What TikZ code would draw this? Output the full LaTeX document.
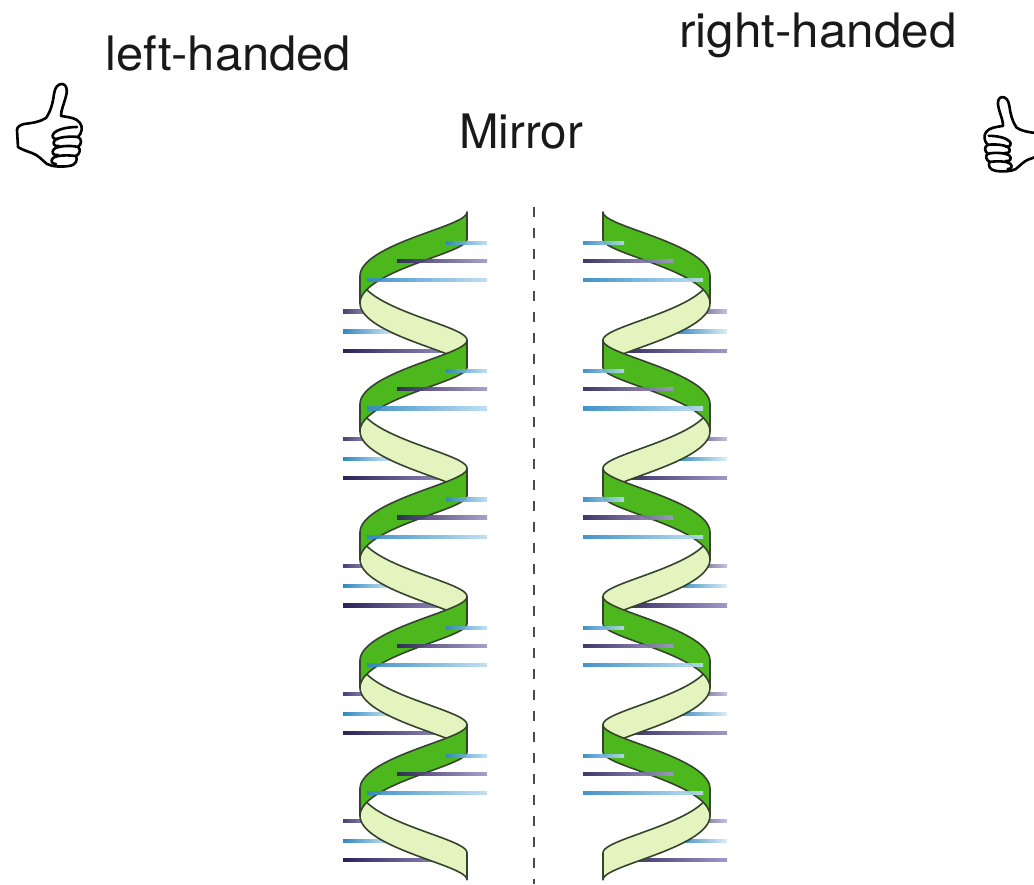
\documentclass[tikz,border=0pt]{standalone}
\usepackage{fontspec}
\setmainfont{TeX Gyre Heros}
\definecolor{ribbondark}{HTML}{4DB81E}
\definecolor{ribbonlight}{HTML}{E4F4BE}
\definecolor{ribbonedge}{HTML}{36432F}
\definecolor{bluedeep}{HTML}{2F88C4}
\definecolor{bluepale}{HTML}{B9DDF2}
\definecolor{violetdeep}{HTML}{2B2358}
\definecolor{violetpale}{HTML}{A098C8}
\definecolor{mirrorgray}{HTML}{4A4A4A}

% helix parameters (1 unit = 1pt, y grows downwards)
\def\hcx{413.5}
\def\hrr{53.5}
\def\hyo{212}
\def\hkk{0.35605}
\def\hee{6.5}
\def\hww{27}

% one half turn of the ribbon between two angles (degrees)
\newcommand\ribbonband[3]{%
  \filldraw[#1] plot[domain=#2:#3,samples=45]
      ({\hcx+\hrr*cos(\x)},{\hyo+\hkk*\x-\hee*sin(\x)})
    -- plot[domain=#3:#2,samples=45]
      ({\hcx+\hrr*cos(\x)},{\hyo+\hww+\hkk*\x-\hee*sin(\x)})
    -- cycle;}

% a base-pair rung: from x1 to x2 at height y, shaded between two colours
\newcommand\rung[5]{%
  \shade[left color=#4,right color=#5] (#1,#3-1.6) rectangle (#2,#3+1.6);}

% one complete double helix with its rungs
\newcommand\helixstrand{%
  \foreach \m in {0,...,4}{%
    \pgfmathsetmacro\ya{311.5+127.4*\m}%
    \pgfmathsetmacro\yb{331.5+127.4*\m}%
    \pgfmathsetmacro\yc{350.7+127.4*\m}%
    \rung{343}{385}{\ya}{violetdeep!75!violetpale}{violetpale!60}
    \rung{343}{395}{\yb}{bluedeep}{bluepale!50}
    \rung{343}{458}{\yc}{violetdeep}{violetpale}
  }
  \foreach \m in {0,...,4}{%
    \pgfmathsetmacro\sa{360*\m+180}%
    \pgfmathsetmacro\sb{360*\m+360}%
    \ribbonband{backband}{\sa}{\sb}
  }
  \foreach \m in {0,...,4}{%
    \pgfmathsetmacro\sa{360*\m}%
    \pgfmathsetmacro\sb{360*\m+180}%
    \ribbonband{frontband}{\sa}{\sb}
  }
  \foreach \m in {0,...,4}{%
    \pgfmathsetmacro\ya{243+128.2*\m}%
    \pgfmathsetmacro\yb{261+128.2*\m}%
    \pgfmathsetmacro\yc{280.3+128.2*\m}%
    \begin{scope}[opacity=0.9]
    \rung{446}{487}{\ya}{bluedeep}{bluepale}
    \rung{397}{487}{\yb}{violetdeep}{violetpale}
    \rung{367}{487}{\yc}{bluedeep}{bluepale}
    \end{scope}
  }
}

% thumbs-up hand outline with curled fingers
\newcommand\thumbhand{%
  \draw[handline] (46,118) .. controls (51,111) and (53,102) .. (54,94)
    .. controls (55,87) and (58,84) .. (62,84)
    .. controls (66,84) and (68,89) .. (66,96)
    .. controls (64,104) and (61,110) .. (61,116)
    .. controls (68,117) and (77,118) .. (80,123)
    .. controls (83,127) and (82,133) .. (78,137)
    .. controls (82,139) and (82,144) .. (78,147)
    .. controls (81,149) and (80,154) .. (76,156)
    .. controls (78,160) and (76,165) .. (69,166)
    .. controls (62,167) and (53,167) .. (47,164)
    .. controls (42,160) and (38,155) .. (32,153)
    .. controls (26,151) and (21,149) .. (18,147)
    -- (17,130)
    .. controls (17,127) and (20,125) .. (24,124)
    .. controls (32,123) and (40,122) .. (46,118) -- cycle;
  \draw[handline] (77,127) .. controls (68,127) and (58,129) .. (54,133)
    .. controls (51,136) and (53,140) .. (58,139);
  \draw[handline] (78,137) .. controls (70,136) and (59,137) .. (55,140)
    .. controls (52,143) and (54,147) .. (59,146);
  \draw[handline] (78,147) .. controls (70,145) and (58,146) .. (54,149)
    .. controls (51,152) and (53,156) .. (58,155);
  \draw[handline] (76,156) .. controls (68,155) and (57,155) .. (53,158)
    .. controls (50,161) and (52,164) .. (56,164);
}

\begin{document}
\begin{tikzpicture}[x=1pt,y=-1pt,
  frontband/.style={fill=ribbondark,draw=ribbonedge,line width=1.6pt,line join=round},
  backband/.style={fill=ribbonlight,draw=ribbonedge,line width=1.6pt,line join=round},
  handline/.style={draw=black,line width=2.6pt,line join=round,line cap=round},
  caption/.style={font=\fontsize{47.5}{56}\selectfont,text=black!90,inner sep=0pt,anchor=base west}]
\useasboundingbox[fill=white] (0,0) rectangle (1034,884);

% labels
\node[caption] (lefthand) at (105,70) {\addfontfeature{FakeStretch=1.03}left-handed};
\node[caption] (righthand) at (679,47) {\addfontfeature{FakeStretch=1.04}right-handed};
\node[caption] (mirror) at (459,148) {Mirror};

% thumbs
\begin{scope}
  \thumbhand
\end{scope}
\begin{scope}[shift={(1058,21.5)},xscale=-0.9,yscale=0.9]
  \thumbhand
\end{scope}

% mirror plane
\coordinate (mtop) at (534,207);
\coordinate (mbot) at (534,884);
\draw[mirrorgray,line width=2pt,dash pattern=on 10pt off 11pt] (mtop) -- (mbot);

% left-handed helix
\begin{scope}
  \helixstrand
\end{scope}
% right-handed helix: its mirror image
\begin{scope}[shift={(1070,0)},xscale=-1]
  \helixstrand
\end{scope}
\end{tikzpicture}
\end{document}
